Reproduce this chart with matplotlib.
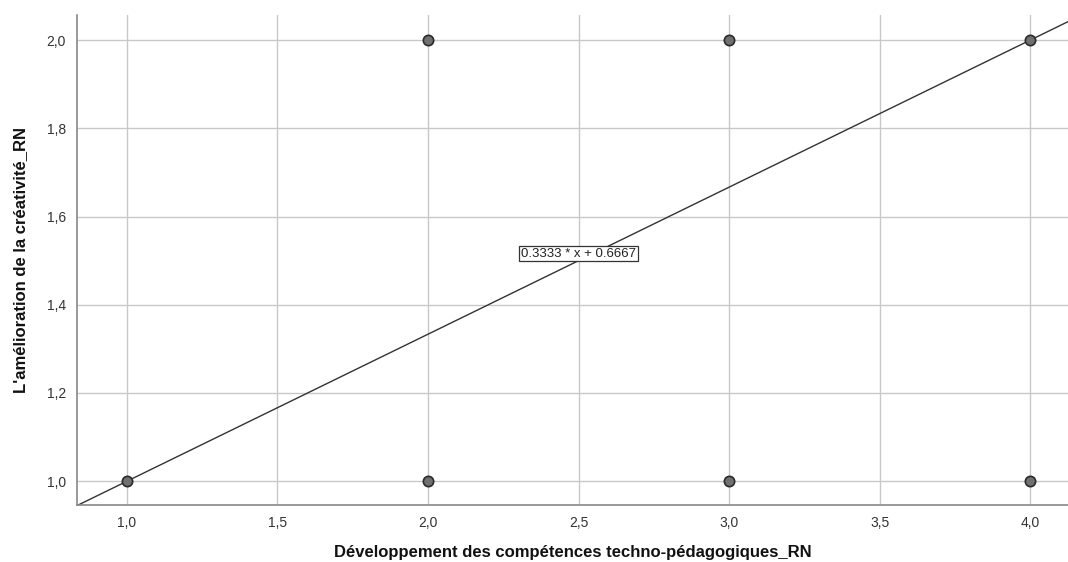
import matplotlib
matplotlib.use("Agg")
import matplotlib.pyplot as plt
import numpy as np

plt.rcParams['font.family'] = ['Liberation Sans', 'DejaVu Sans']

x_vals = [1, 2, 2, 3, 3, 4, 4]
y_vals = [1, 1, 2, 1, 2, 1, 2]
slope = 0.3333
intercept = 0.6667
xticks = [1.0, 1.5, 2.0, 2.5, 3.0, 3.5, 4.0]
yticks = [1.0, 1.2, 1.4, 1.6, 1.8, 2.0]
xlabel = "Développement des compétences techno-pédagogiques_RN"
ylabel = "L'amélioration de la créativité_RN"
eq_label = "0.3333 * x + 0.6667"

fig = plt.figure(figsize=(10.68, 5.62), dpi=100)
ax = fig.add_axes([0.0721, 0.1014, 0.9279, 0.8719])
xmin, xmax = 0.834, 4.126
ymin, ymax = 0.946, 2.057
ax.set_xlim(xmin, xmax)
ax.set_ylim(ymin, ymax)

ax.grid(True, color='#c8c8c8', linewidth=1.0)
ax.set_axisbelow(True)

lx = np.array([xmin, xmax])
ax.plot(lx, slope * lx + intercept, color='#333333', linewidth=1.0, zorder=2)

ax.scatter(x_vals, y_vals, s=55, facecolor='#707070', edgecolor='#2a2a2a', linewidth=1.2, zorder=3)

ax.text(2.5, 1.516, eq_label, fontsize=9.5, ha='center', va='center', color='#222222',
        bbox=dict(boxstyle='square,pad=0.12', facecolor='white', edgecolor='#333333', linewidth=0.9), zorder=4)

ax.set_xticks(xticks)
ax.set_yticks(yticks)
ax.set_xticklabels([f"{v:.1f}".replace('.', ',') for v in xticks])
ax.set_yticklabels([f"{v:.1f}".replace('.', ',') for v in yticks])
ax.tick_params(axis='both', length=0, labelsize=10, colors='#333333', pad=8)

for s in ['top', 'right']:
    ax.spines[s].set_visible(False)
for s in ['left', 'bottom']:
    ax.spines[s].set_color('#888888')
    ax.spines[s].set_linewidth(1.2)

ax.set_xlabel(xlabel, fontsize=12, fontweight='bold', color='#111111', labelpad=11)
ax.set_ylabel(ylabel, fontsize=12, fontweight='bold', color='#111111', labelpad=13)

fig.savefig("out.png", dpi=100)
